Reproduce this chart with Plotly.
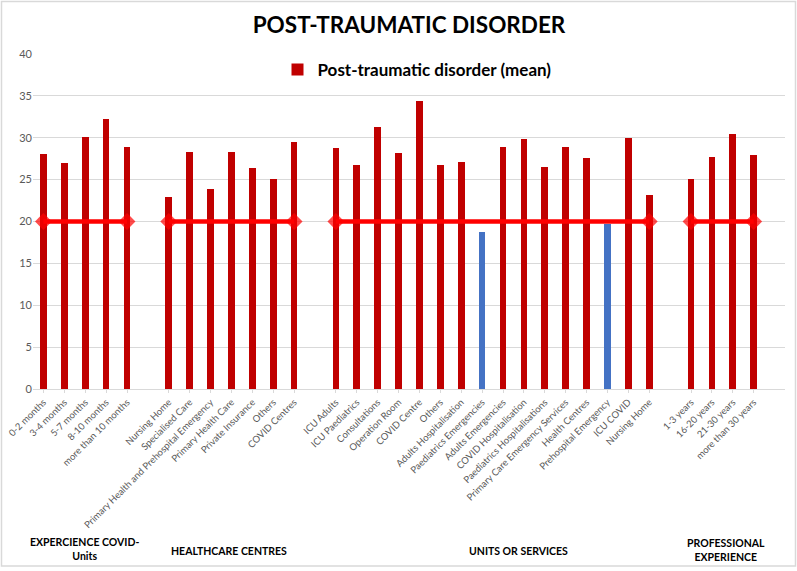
import plotly.graph_objects as go

# ---------------- data ----------------
group_names = [
    "EXPERCIENCE COVID-<br>Units",
    "HEALTHCARE CENTRES",
    "UNITS OR SERVICES",
    "PROFESSIONAL<br>EXPERIENCE",
]

experience_covid_labels = ["0-2 months", "3-4 months", "5-7 months", "8-10 months", "more than 10 months"]
experience_covid_values = [28.1, 27.0, 30.1, 32.2, 28.9]

healthcare_centres_labels = ["Nursing Home", "Specialised Care", "Primary Health and Prehospital Emergency",
                             "Primary Health Care", "Private Insurance", "Others", "COVID Centres"]
healthcare_centres_values = [22.9, 28.3, 23.9, 28.3, 26.4, 25.1, 29.5]

units_labels = ["ICU Adults", "ICU Paediatrics", "Consultations", "Operation Room", "COVID Centre", "Others",
                "Adults Hospitalisation", "Paediatrics Emergencies", "Adults Emergencies",
                "COVID Hospitalisation", "Paediatrics Hospitalisations", "Primary Care Emergency Services",
                "Health Centres", "Prehospital Emergency", "ICU COVID", "Nursing Home"]
units_values = [28.8, 26.7, 31.3, 28.2, 34.4, 26.8, 27.1, 18.7, 28.9, 29.8, 26.5, 28.9, 27.6, 19.7, 30.0, 23.2]

professional_labels = ["1-3 years", "16-20 years", "21-30 years", "more than 30 years"]
professional_values = [25.1, 27.7, 30.5, 27.9]

threshold = 20
y_ticks = [0, 5, 10, 15, 20, 25, 30, 35, 40]

# ---------------- build category positions (one empty slot between groups) ----------------
groups = [
    (experience_covid_labels, experience_covid_values),
    (healthcare_centres_labels, healthcare_centres_values),
    (units_labels, units_values),
    (professional_labels, professional_values),
]

xs, ys, labels, group_ranges = [], [], [], []
pos = 0
for gi, (labs, vals) in enumerate(groups):
    start = pos
    for lab, val in zip(labs, vals):
        xs.append(pos)
        ys.append(val)
        labels.append(lab)
        pos += 1
    group_ranges.append((start, pos - 1))
    pos += 1  # empty category gap
n_slots = pos - 1

RED = "#C00000"
BLUE = "#4472C4"
colors = [BLUE if v < threshold else RED for v in ys]

fig = go.Figure()
fig.add_trace(go.Bar(
    x=xs, y=ys, width=0.32,
    marker=dict(color=colors, line=dict(width=0)),
    name="<b>Post-traumatic disorder (mean)</b>",
    showlegend=True,
))

# threshold line per group
for (a, b) in group_ranges:
    gx = [x for x in xs if a <= x <= b]
    sizes = [13 if (x == a or x == b) else 0 for x in gx]
    fig.add_trace(go.Scatter(
        x=gx, y=[threshold] * len(gx), mode="lines+markers",
        line=dict(color="#FF0000", width=4.5),
        marker=dict(symbol="diamond", size=sizes, color="#FF0000", line=dict(width=0)),
        showlegend=False, hoverinfo="skip",
    ))

# ---------------- layout ----------------
L, R, T, B = 33, 12, 54, 182
W, H = 797, 571
pw = W - L - R
ph = H - T - B

def px_x(px):
    return (px - L) / pw

def px_y(py):
    return (H - B - py) / ph

fig.update_layout(
    width=W, height=H,
    margin=dict(l=L, r=R, t=T, b=B, autoexpand=False),
    paper_bgcolor="white", plot_bgcolor="white",
    font=dict(family="Lato, 'Open Sans', sans-serif", color="#595959"),
    title=dict(
        text="<b>POST-TRAUMATIC DISORDER</b>",
        x=0.5, xanchor="center", xref="paper",
        y=1 - 25 / H, yanchor="middle", yref="container",
        font=dict(family="Lato, sans-serif", size=22.5, color="black"),
    ),
    legend=dict(
        orientation="h", x=px_x(417), y=px_y(70), xanchor="center", yanchor="middle",
        font=dict(family="Lato, sans-serif", size=17, color="black"),
        bgcolor="rgba(0,0,0,0)", itemsizing="constant",
    ),
    bargap=0,
    showlegend=True,
)

fig.update_xaxes(
    range=[-0.5, n_slots + 0.5], automargin=False,
    tickmode="array", tickvals=xs, ticktext=labels,
    tickangle=-45,
    tickfont=dict(family="Lato, sans-serif", size=9.5, color="#595959"),
    showgrid=False, zeroline=False,
    showline=True, linecolor="#D9D9D9", linewidth=1,
    ticks="outside", ticklen=3, tickcolor="#D9D9D9",
)
fig.update_yaxes(
    range=[0, 40], tickmode="array", tickvals=y_ticks, automargin=False,
    tickfont=dict(size=11, color="#595959"),
    showgrid=True, gridcolor="#D9D9D9", gridwidth=1,
    zeroline=False, showline=False, ticks="",
)

# group labels
group_label_px = [(84, 549), (229, 551), (518, 551), (726, 550)]
for name, (gx, gy) in zip(group_names, group_label_px):
    fig.add_annotation(
        text="<b>" + name + "</b>", xref="paper", yref="paper",
        x=px_x(gx), y=px_y(gy), xanchor="center", yanchor="middle",
        showarrow=False, font=dict(family="Lato, sans-serif", size=10.5, color="black"),
        align="center",
    )

# chart border
fig.add_shape(
    type="rect", xref="paper", yref="paper",
    x0=px_x(1.5), x1=px_x(795.5), y0=px_y(566), y1=px_y(1.5),
    line=dict(color="#D9D9D9", width=1.5), fillcolor="rgba(0,0,0,0)", layer="below",
)

fig.write_html("out.html", config={"displayModeBar": False},
               post_script="document.body.style.margin='0';document.body.style.padding='0';")
